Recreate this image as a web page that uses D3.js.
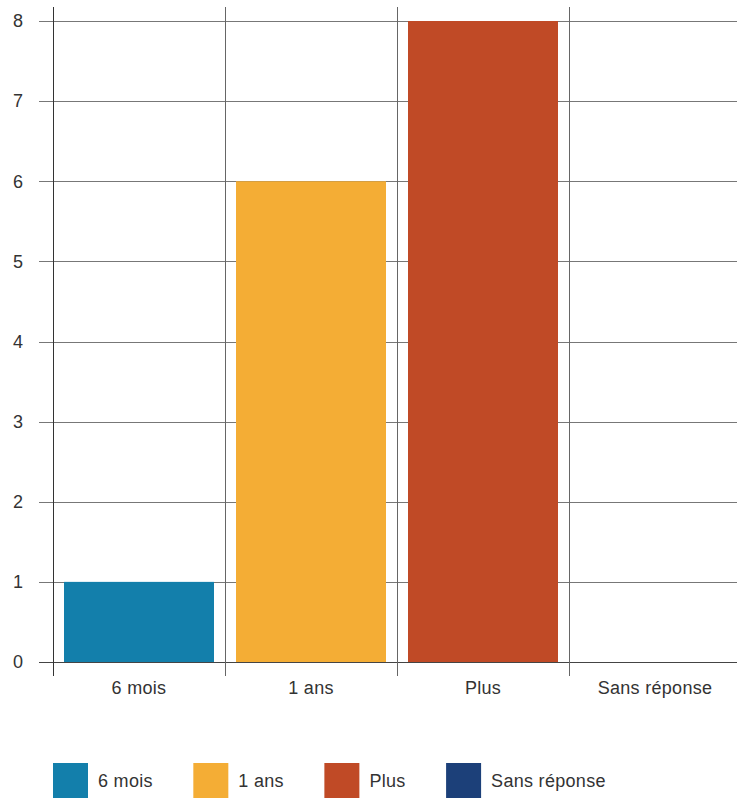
<!DOCTYPE html>
<html>
<head>
<meta charset="utf-8">
<script src="https://cdn.jsdelivr.net/npm/d3@7"></script>
<style>
  html, body { margin: 0; padding: 0; background: #fff; }
  svg { display: block; font-family: "Liberation Sans", Arial, Helvetica, sans-serif; }
</style>
</head>
<body>
<svg id="chart" width="737" height="802"></svg>
<script>
// Durée : number of answers per category
const categories = ["6 mois", "1 ans", "Plus", "Sans réponse"];
const values = [1, 6, 8, 0];
const colors = ["#137fab", "#f4ad35", "#c04a26", "#1c4079"];
const yTicks = [0, 1, 2, 3, 4, 5, 6, 7, 8];

const svg = d3.select("#chart");
const plotLeft = 53, plotRight = 741, plotTop = 21, plotBottom = 662;
const labelSize = 18;

const x = d3.scaleBand()
  .domain(categories)
  .range([plotLeft, plotRight])
  .paddingInner(0.128)
  .paddingOuter(0.064);

const y = d3.scaleLinear().domain([0, 8]).range([plotBottom, plotTop]);

// horizontal grid lines with left tick stubs
svg.append("g")
  .selectAll("line")
  .data(yTicks)
  .join("line")
  .attr("x1", plotLeft - 14)
  .attr("x2", plotRight)
  .attr("y1", d => Math.round(y(d)) + 0.5)
  .attr("y2", d => Math.round(y(d)) + 0.5)
  .attr("stroke", d => d === 0 ? "#444" : "#777")
  .attr("stroke-width", 1);

// vertical band separators
const step = x.step();
const seps = d3.range(categories.length + 1).map(i => plotLeft + i * step);
svg.append("g")
  .selectAll("line")
  .data(seps)
  .join("line")
  .attr("x1", d => Math.round(d) + 0.5)
  .attr("x2", d => Math.round(d) + 0.5)
  .attr("y1", 7)
  .attr("y2", 676)
  .attr("stroke", (d, i) => i === 0 ? "#333" : "#666")
  .attr("stroke-width", 1);

// bars
svg.append("g")
  .selectAll("rect")
  .data(categories)
  .join("rect")
  .attr("x", d => x(d))
  .attr("width", x.bandwidth())
  .attr("y", (d, i) => y(values[i]))
  .attr("height", (d, i) => y(0) - y(values[i]))
  .attr("fill", (d, i) => colors[i]);

// y tick labels
svg.append("g")
  .selectAll("text")
  .data(yTicks)
  .join("text")
  .attr("x", 23)
  .attr("y", d => y(d))
  .attr("dy", "0.35em")
  .attr("text-anchor", "end")
  .attr("font-size", labelSize)
  .attr("fill", "#333")
  .text(d => d);

// category labels
svg.append("g")
  .selectAll("text")
  .data(categories)
  .join("text")
  .attr("x", d => plotLeft + categories.indexOf(d) * step + step / 2)
  .attr("y", 688)
  .attr("dy", "0.35em")
  .attr("text-anchor", "middle")
  .attr("font-size", labelSize)
  .attr("letter-spacing", 0.3)
  .attr("fill", "#333")
  .text(d => d);

// legend
const legend = svg.append("g");
let lx = plotLeft;
categories.forEach((c, i) => {
  legend.append("rect")
    .attr("x", lx).attr("y", 763)
    .attr("width", 35).attr("height", 35)
    .attr("fill", colors[i]);
  const t = legend.append("text")
    .attr("x", lx + 45).attr("y", 781)
    .attr("dy", "0.35em")
    .attr("font-size", labelSize)
    .attr("letter-spacing", 0.3)
    .attr("fill", "#333")
    .text(c);
  lx = lx + 45 + t.node().getComputedTextLength() + 40.5;
});
</script>
</body>
</html>
